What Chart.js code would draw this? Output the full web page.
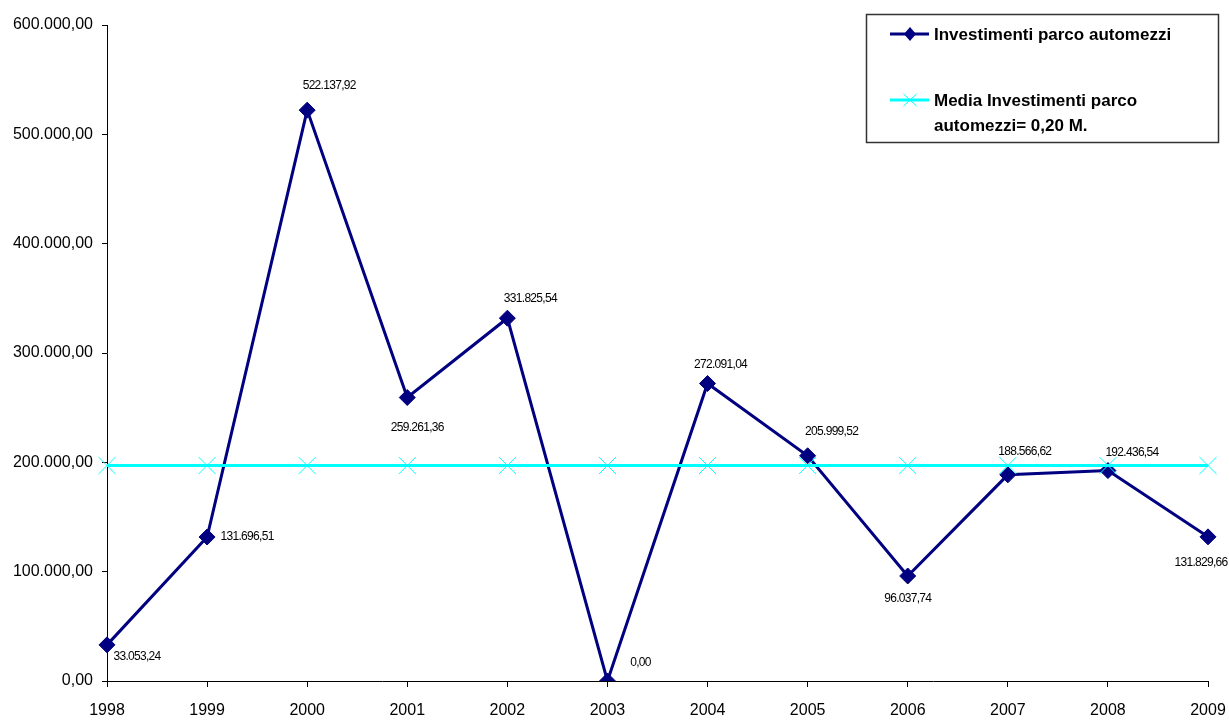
<!DOCTYPE html>
<html>
<head>
<meta charset="utf-8">
<title>Investimenti parco automezzi</title>
<script src="https://cdn.jsdelivr.net/npm/chart.js@4/dist/chart.umd.min.js"></script>
<style>
  body { margin: 0; background: #fff; }
  canvas { display: block; }
</style>
</head>
<body>
<canvas id="myChart" width="1229" height="720"></canvas>
<script>
'use strict';
let anni = ['1998', '1999', '2000', '2001', '2002', '2003', '2004', '2005', '2006', '2007', '2008', '2009'];
let investimenti = [33053.24, 131696.51, 522137.92, 259261.36, 331825.54, 0.00, 272091.04, 205999.52, 96037.74, 188566.62, 192436.54, 131829.66];
let media = [197077.97, 197077.97, 197077.97, 197077.97, 197077.97, 197077.97, 197077.97, 197077.97, 197077.97, 197077.97, 197077.97, 197077.97];
let yTicks = [0, 100000, 200000, 300000, 400000, 500000, 600000];
let nomeSerie = 'Investimenti parco automezzi';
let nomeMedia = ['Media Investimenti parco', 'automezzi= 0,20 M.'];

let navy = '#000080';
let cyan = '#00ffff';
let fontName = '"Liberation Sans", Arial, sans-serif';

// 1234567.8 -> 1.234.567,80
function formatNum(v) {
    let parts = v.toFixed(2).split('.');
    let intPart = parts[0].replace(/\B(?=(\d{3})+(?!\d))/g, '.');
    return intPart + ',' + parts[1];
}

// where each value label sits relative to its point
let labelOffsets = [[30, 12], [40, 0], [22, -24], [10, 30], [23, -20], [33, -18],
                    [13, -19], [24, -24], [0, 23], [17, -23], [24, -18], [-7, 26]];

const valueLabels = {
    id: 'valueLabels',
    afterDatasetsDraw(chart) {
        let ctx = chart.ctx;
        let meta = chart.getDatasetMeta(0);
        ctx.save();
        ctx.font = '12px ' + fontName;
        ctx.letterSpacing = '-0.7px';
        ctx.fillStyle = '#000';
        ctx.textAlign = 'center';
        ctx.textBaseline = 'middle';
        meta.data.forEach(function (pt, i) {
            let off = labelOffsets[i];
            ctx.fillText(formatNum(investimenti[i]), pt.x + off[0], pt.y + off[1]);
        });
        ctx.restore();
    }
};

const legendBox = {
    id: 'legendBox',
    afterDraw(chart) {
        let ctx = chart.ctx;
        ctx.save();
        ctx.fillStyle = '#fff';
        ctx.fillRect(866, 14, 352, 128);
        ctx.strokeStyle = '#333';
        ctx.lineWidth = 1.5;
        ctx.strokeRect(866.5, 14.5, 352, 128);

        // first entry: navy line with diamond
        ctx.strokeStyle = navy;
        ctx.lineWidth = 3;
        ctx.beginPath();
        ctx.moveTo(890, 34);
        ctx.lineTo(929, 34);
        ctx.stroke();
        ctx.fillStyle = navy;
        ctx.beginPath();
        ctx.moveTo(910, 27);
        ctx.lineTo(916, 34);
        ctx.lineTo(910, 41);
        ctx.lineTo(904, 34);
        ctx.closePath();
        ctx.fill();

        // second entry: cyan line with cross
        ctx.strokeStyle = cyan;
        ctx.lineWidth = 3;
        ctx.beginPath();
        ctx.moveTo(890, 100);
        ctx.lineTo(929, 100);
        ctx.stroke();
        ctx.lineWidth = 1;
        ctx.beginPath();
        ctx.moveTo(903.5, 94);
        ctx.lineTo(916.5, 106);
        ctx.moveTo(916.5, 94);
        ctx.lineTo(903.5, 106);
        ctx.stroke();

        ctx.fillStyle = '#000';
        ctx.font = 'bold 17px ' + fontName;
        ctx.textAlign = 'left';
        ctx.textBaseline = 'middle';
        ctx.fillText(nomeSerie, 934, 35);
        ctx.fillText(nomeMedia[0], 934, 101);
        ctx.fillText(nomeMedia[1], 934, 126);
        ctx.restore();
    }
};

let ctx = document.getElementById('myChart').getContext('2d');
let myChart = new Chart(ctx, {
    type: 'line',
    data: {
        labels: anni,
        datasets: [{
            label: nomeSerie,
            data: investimenti,
            borderColor: navy,
            backgroundColor: navy,
            borderWidth: 3,
            pointStyle: 'rectRot',
            pointRadius: 8,
            pointBorderWidth: 1,
            pointBackgroundColor: navy,
            pointBorderColor: navy,
            tension: 0,
            order: 2
        }, {
            label: nomeMedia.join(' '),
            data: media,
            borderColor: cyan,
            backgroundColor: cyan,
            borderWidth: 3,
            pointStyle: 'crossRot',
            pointRadius: 12,
            pointBorderWidth: 1,
            pointBorderColor: cyan,
            tension: 0,
            order: 1
        }]
    },
    options: {
        responsive: false,
        animation: false,
        events: [],
        layout: {
            autoPadding: false,
            padding: { top: 25, right: 21, bottom: 0, left: 0 }
        },
        plugins: {
            legend: { display: false },
            tooltip: { enabled: false }
        },
        scales: {
            x: {
                offset: false,
                grid: {
                    drawOnChartArea: false,
                    drawTicks: true,
                    tickLength: 6,
                    tickColor: '#000',
                    lineWidth: 1
                },
                border: { display: true, color: '#000', width: 1 },
                ticks: {
                    color: '#000',
                    padding: 14,
                    maxRotation: 0,
                    font: { family: fontName, size: 16 }
                },
                afterFit: function (scale) {
                    scale.height = 39;
                    scale.paddingLeft = 0;
                    scale.paddingRight = 0;
                }
            },
            y: {
                min: 0,
                max: 600000,
                afterBuildTicks: function (scale) {
                    scale.ticks = yTicks.map(function (v) { return { value: v }; });
                },
                grid: {
                    drawOnChartArea: false,
                    drawTicks: true,
                    tickLength: 5,
                    tickColor: '#000',
                    lineWidth: 1
                },
                border: { display: true, color: '#000', width: 1 },
                ticks: {
                    color: '#000',
                    padding: 9,
                    font: { family: fontName, size: 16 },
                    callback: function (v) { return formatNum(v); }
                },
                afterFit: function (scale) {
                    scale.width = 107;
                    scale.paddingTop = 0;
                    scale.paddingBottom = 0;
                }
            }
        }
    },
    plugins: [valueLabels, legendBox]
});
</script>
</body>
</html>
